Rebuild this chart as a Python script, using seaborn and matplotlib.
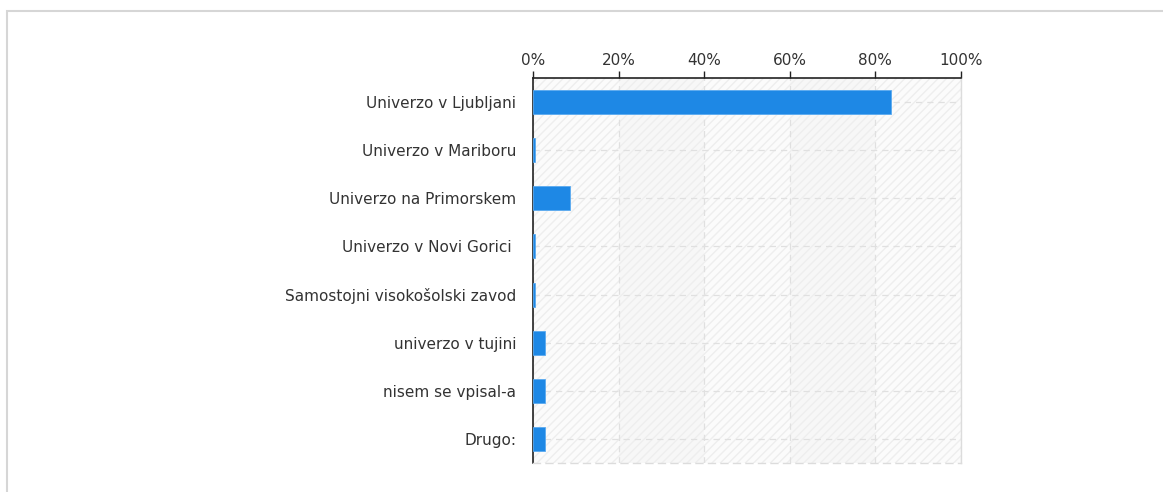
import matplotlib
matplotlib.use("Agg")
import matplotlib.pyplot as plt
from matplotlib.patches import Rectangle
from matplotlib.ticker import PercentFormatter
import seaborn as sns
import pandas as pd

# --- data ---
categories = [
    "Univerzo v Ljubljani",
    "Univerzo v Mariboru",
    "Univerzo na Primorskem",
    "Univerzo v Novi Gorici ",
    "Samostojni visokošolski zavod",
    "univerzo v tujini",
    "nisem se vpisal-a",
    "Drugo:",
]
shares = [83.7, 0.4, 8.6, 0.4, 0.4, 2.9, 2.9, 2.9]
x_ticks = [0, 20, 40, 60, 80, 100]

df = pd.DataFrame({"category": categories, "share": shares})

sns.set_style("white")
plt.rcParams["font.family"] = ["DejaVu Sans"]

fig = plt.figure(figsize=(11.63, 4.92), dpi=100)
# outer light frame
fig.patches.append(Rectangle((7 / 1163, -0.05), 1.1, 1 - 11 / 492 + 0.05,
                             transform=fig.transFigure, fill=False,
                             edgecolor="#d6d6d6", linewidth=1.5))

ax = fig.add_axes([533 / 1163, 1 - 463 / 492, 428 / 1163, 385 / 492])
ax.set_facecolor("#fbfbfb")

# alternating bands + hatch background
for lo in (20, 60):
    ax.axvspan(lo, lo + 20, color="#f7f7f7", zorder=0, lw=0)
ax.add_patch(Rectangle((0, 0), 1, 1, transform=ax.transAxes, fill=False,
                       hatch="////", edgecolor="#eeeeee", lw=0, zorder=0))

sns.barplot(data=df, x="share", y="category", orient="h", color="#1e88e5",
            width=0.5, edgecolor="#5aaaf0", linewidth=0.6, saturation=1,
            ax=ax, zorder=3)

ax.set_xlim(0, 100)
ax.set_xticks(x_ticks)
ax.xaxis.set_major_formatter(PercentFormatter(decimals=0))
ax.xaxis.tick_top()
ax.set_xlabel("")
ax.set_ylabel("")

ax.grid(True, axis="both", linestyle=(0, (5, 4)), color="#e0e0e0", lw=0.9, zorder=1)
ax.set_axisbelow(True)

for side in ("left", "top"):
    ax.spines[side].set_color("#222222")
    ax.spines[side].set_linewidth(1.2)
for side in ("right", "bottom"):
    ax.spines[side].set_color("#dcdcdc")
    ax.spines[side].set_linewidth(1.0)
ax.spines["bottom"].set_linestyle((0, (5, 4)))

ax.tick_params(axis="x", which="major", direction="out", length=5, width=1,
               color="#222222", labelsize=11, labelcolor="#333333", pad=2)
ax.tick_params(axis="y", which="major", direction="out", length=4, width=1,
               color="#222222", labelsize=11, labelcolor="#333333", pad=8)

fig.savefig("out.png", dpi=100)
